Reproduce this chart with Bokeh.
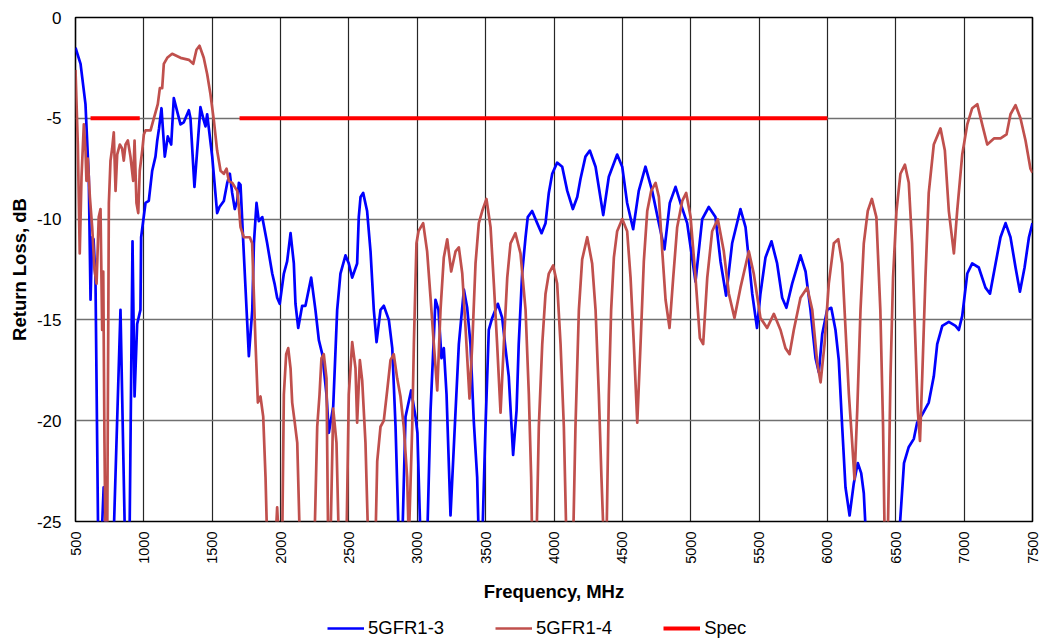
import math
from bokeh.plotting import figure
from bokeh.layouts import column
from bokeh.models import Range1d, FixedTicker, Legend, LegendItem
from bokeh.embed import file_html
from bokeh.resources import INLINE

# ---- data ----
x_ticks = [500, 1000, 1500, 2000, 2500, 3000, 3500, 4000, 4500, 5000, 5500, 6000, 6500, 7000, 7500]
y_ticks = [-25, -20, -15, -10, -5, 0]
y_tick_labels = ["-25", "-20", "-15", "-10", "-5", "0"]

freq_13 = [500, 537, 573, 597, 610, 622, 632, 646, 666, 690, 706, 716, 727, 738, 778, 829, 862, 895,
           917, 932, 951, 975, 980, 1012, 1036, 1061, 1085, 1098, 1111, 1129, 1153, 1175, 1200, 1219,
           1268, 1292, 1329, 1341, 1370, 1414, 1438, 1451, 1463, 1500, 1536, 1553, 1585, 1610, 1629,
           1646, 1665, 1683, 1695, 1707, 1731, 1768, 1793, 1805, 1824, 1841, 1866, 1902, 1939, 1956,
           1975, 1994, 2024, 2048, 2073, 2097, 2109, 2129, 2158, 2182, 2224, 2255, 2280, 2305, 2336,
           2353, 2385, 2414, 2438, 2475, 2499, 2524, 2560, 2572, 2585, 2604, 2633, 2658, 2682, 2702,
           2731, 2755, 2792, 2817, 2841, 2865, 2890, 2914, 2955, 2987, 3001, 3024, 3072, 3097, 3133,
           3155, 3177, 3194, 3214, 3243, 3280, 3304, 3341, 3365, 3389, 3413, 3438, 3450, 3475, 3499,
           3523, 3548, 3589, 3621, 3645, 3669, 3701, 3726, 3742, 3767, 3792, 3808, 3840, 3877, 3909,
           3938, 3962, 3987, 4023, 4060, 4097, 4138, 4170, 4194, 4230, 4262, 4304, 4360, 4401, 4462,
           4499, 4535, 4579, 4620, 4669, 4718, 4767, 4808, 4847, 4889, 4925, 4974, 5035, 5084, 5132,
           5181, 5218, 5259, 5303, 5364, 5401, 5450, 5485, 5510, 5547, 5591, 5632, 5669, 5700, 5742,
           5803, 5840, 5876, 5913, 5937, 5962, 5998, 6028, 6059, 6083, 6108, 6132, 6162, 6193, 6222,
           6247, 6266, 6284, 6522, 6560, 6595, 6632, 6656, 6693, 6741, 6778, 6803, 6840, 6888, 6937,
           6961, 6986, 7023, 7059, 7107, 7156, 7189, 7230, 7266, 7303, 7339, 7376, 7408, 7442, 7474,
           7500]
rl_13 = [-1.5, -2.3, -4.3, -7.9, -14.0, -10.9, -11.0, -12.9, -26, -26, -23.3, -23.3, -26, -26, -26, -14.5,
         -26, -26, -11.1, -18.8, -15.2, -14.5, -10.9, -9.2, -9.1, -7.6, -6.9, -6.1, -5.5, -4.5, -6.9,
         -5.9, -6.3, -4.0, -5.3, -5.2, -4.6, -5.0, -8.4, -4.45, -5.1, -5.4, -4.8, -6.9, -9.7, -9.4,
         -9.1, -8.2, -7.75, -8.7, -9.5, -9.1, -8.2, -8.3, -11.7, -16.8, -14.5, -11.2, -9.2, -10.1,
         -9.9, -11.2, -12.7, -13.2, -13.9, -14.2, -12.7, -12.1, -10.7, -12.2, -14.2, -15.4, -14.3,
         -14.3, -12.9, -14.5, -16.0, -16.7, -18.7, -20.6, -19.3, -14.5, -12.7, -11.8, -12.2, -12.9,
         -12.2, -9.9, -8.9, -8.7, -9.6, -11.6, -14.5, -16.1, -14.5, -14.3, -15.0, -16.4, -20.3, -26,
         -26, -19.8, -18.5, -19.8, -20.6, -26, -26, -19.5, -14.0, -14.5, -16.9, -16.4, -18.7, -24.7,
         -19.5, -16.2, -13.5, -14.4, -16.2, -20.0, -22.8, -26, -26, -20.3, -15.5, -14.9, -14.2,
         -14.9, -16.4, -17.8, -21.7, -19.5, -16.2, -12.7, -10.9, -9.9, -9.6, -10.2, -10.7, -10.2,
         -8.7, -7.75, -7.2, -7.4, -8.6, -9.5, -8.9, -8.0, -6.9, -6.6, -7.4, -9.8, -7.9, -6.8, -7.4,
         -9.2, -10.5, -8.6, -7.4, -8.6, -10.2, -11.5, -9.2, -8.4, -9.2, -10.2, -13.1, -10.0, -9.4,
         -9.9, -12.1, -13.8, -11.2, -9.5, -10.4, -13.7, -15.4, -13.7, -11.9, -11.1, -12.2, -13.9,
         -14.4, -13.2, -11.8, -12.6, -14.5, -16.9, -17.6, -15.7, -14.5, -14.4, -15.5, -17.0, -20.3,
         -23.3, -24.7, -23.1, -22.1, -22.6, -23.6, -26, -26, -22.1, -21.3, -20.9, -20.1, -19.7,
         -19.1, -17.8, -16.2, -15.3, -15.1, -15.3, -15.5, -14.8, -12.7, -12.2, -12.4, -13.4, -13.7,
         -12.2, -10.9, -10.2, -10.9, -12.4, -13.6, -12.4, -10.9, -10.2]

freq_14 = [500, 517, 531, 544, 561, 573, 580, 590, 605, 622, 639, 654, 670, 683, 695, 703, 712, 719, 732,
           744, 756, 768, 780, 793, 805, 824, 841, 853, 866, 883, 902, 922, 932, 946, 959, 970, 988,
           1000, 1012, 1049, 1073, 1102, 1117, 1134, 1146, 1171, 1207, 1268, 1329, 1361, 1385, 1407,
           1438, 1463, 1487, 1512, 1536, 1561, 1585, 1605, 1621, 1646, 1683, 1695, 1707, 1731, 1775,
           1792, 1817, 1834, 1853, 1873, 1890, 1902, 1963, 1975, 1988, 2012, 2024, 2041, 2056, 2073,
           2085, 2102, 2122, 2141, 2248, 2268, 2285, 2299, 2316, 2336, 2348, 2365, 2385, 2409, 2426,
           2482, 2499, 2524, 2548, 2560, 2580, 2597, 2621, 2641, 2694, 2707, 2731, 2755, 2780, 2804,
           2828, 2853, 2877, 2901, 2926, 2938, 2963, 2975, 2994, 3009, 3043, 3072, 3097, 3121, 3146,
           3170, 3194, 3219, 3248, 3280, 3304, 3329, 3353, 3382, 3402, 3426, 3450, 3475, 3506, 3536,
           3560, 3584, 3609, 3633, 3658, 3682, 3718, 3755, 3792, 3816, 3833, 3840, 3872, 3889, 3914,
           3938, 3962, 3994, 4023, 4048, 4072, 4091, 4140, 4157, 4182, 4206, 4243, 4279, 4304, 4328,
           4347, 4364, 4384, 4401, 4418, 4438, 4462, 4499, 4535, 4560, 4584, 4609, 4633, 4657, 4682,
           4711, 4743, 4767, 4792, 4816, 4845, 4872, 4901, 4938, 4967, 4999, 5035, 5067, 5091, 5121,
           5157, 5198, 5242, 5279, 5320, 5364, 5425, 5461, 5510, 5559, 5608, 5657, 5693, 5723, 5754,
           5803, 5852, 5889, 5925, 5950, 5979, 6010, 6047, 6079, 6108, 6132, 6157, 6181, 6198, 6218,
           6242, 6266, 6295, 6325, 6358, 6387, 6407, 6419, 6441, 6461, 6480, 6505, 6534, 6567, 6595,
           6619, 6644, 6661, 6677, 6693, 6717, 6741, 6778, 6827, 6859, 6888, 6925, 6949, 6986, 7023,
           7059, 7096, 7132, 7169, 7218, 7266, 7310, 7339, 7376, 7412, 7449, 7485, 7500]
rl_14 = [-2.6, -6.3, -11.7, -7.9, -5.3, -6.6, -8.1, -7.0, -8.9, -10.4, -12.5, -13.2, -9.9, -9.5, -15.5,
         -12.6, -21.1, -26, -26, -9.2, -7.1, -6.5, -5.7, -8.6, -6.8, -6.3, -6.5, -7.1, -6.3, -6.1,
         -6.9, -8.1, -6.1, -9.2, -9.7, -7.6, -6.6, -5.8, -5.6, -5.6, -5.0, -4.3, -3.5, -3.5, -2.3,
         -2.0, -1.8, -2.0, -2.1, -2.3, -1.6, -1.4, -2.0, -2.8, -3.8, -5.1, -6.6, -7.6, -7.75, -7.5,
         -8.1, -8.2, -8.6, -9.4, -10.4, -10.9, -10.9, -11.2, -16.2, -19.1, -18.8, -19.8, -22.8, -26,
         -26, -24.3, -26, -26, -18.7, -16.7, -16.4, -17.4, -19.1, -20.0, -21.1, -26, -26, -20.3,
         -18.7, -16.9, -16.7, -17.9, -26, -26, -19.4, -21.1, -26, -26, -18.7, -16.1, -17.4, -20.1,
         -17.0, -18.0, -21.1, -26, -26, -22.0, -20.3, -20.0, -18.5, -17.0, -16.7, -17.9, -18.8,
         -20.3, -22.8, -26, -20.3, -16.2, -11.2, -10.6, -10.2, -11.6, -13.9, -16.2, -18.5, -14.5,
         -11.9, -11.0, -12.6, -11.6, -11.4, -12.7, -15.4, -18.9, -16.2, -12.2, -10.2, -9.6, -9.0,
         -10.4, -13.2, -16.2, -19.6, -16.2, -12.9, -11.2, -10.7, -11.7, -14.5, -18.7, -22.8, -26,
         -26, -20.3, -16.2, -13.7, -12.7, -12.3, -13.2, -16.2, -20.3, -26, -26, -20.3, -14.5, -12.0,
         -10.9, -12.2, -14.5, -18.7, -22.8, -26, -26, -18.7, -14.5, -11.9, -10.6, -10.0, -10.6,
         -12.9, -16.2, -20.1, -16.2, -12.1, -9.6, -8.6, -8.2, -8.9, -11.6, -14.0, -15.4, -12.9,
         -10.4, -9.1, -8.7, -9.9, -12.9, -15.9, -16.2, -12.9, -10.6, -10.0, -11.6, -13.7, -14.9,
         -13.4, -11.6, -12.7, -14.9, -15.4, -14.7, -15.5, -16.4, -16.7, -15.5, -13.9, -13.4, -14.5,
         -17.1, -18.1, -16.2, -13.2, -11.2, -11.0, -12.2, -15.4, -18.7, -21.1, -22.9, -19.5, -14.5,
         -11.2, -9.6, -9.0, -9.9, -14.5, -20.3, -26, -26, -17.9, -12.9, -9.6, -7.75, -7.3, -8.2,
         -11.2, -16.2, -19.5, -21.0, -17.9, -12.9, -8.7, -6.3, -5.5, -6.6, -9.6, -11.7, -9.6, -6.8,
         -5.3, -4.5, -4.3, -5.3, -6.3, -6.0, -6.0, -5.8, -4.8, -4.35, -5.0, -6.1, -7.5, -7.7]

spec_freq = [610, 970, float("nan"), 1700, 6000]
spec_rl = [-5, -5, float("nan"), -5, -5]

series_names = ["5GFR1-3", "5GFR1-4", "Spec"]
series_colors = ["#0000FF", "#C0504D", "#FF0000"]
series_widths = [2.7, 2.7, 4]

FONT = "Liberation Sans"

# ---------------- main chart ----------------
p = figure(frame_width=957, frame_height=504, output_backend="svg", toolbar_location=None,
           x_range=Range1d(500, 7500), y_range=Range1d(-25, 0),
           min_border_left=75, min_border_right=8, min_border_top=17, min_border_bottom=85)

p.background_fill_color = "white"
p.border_fill_color = "white"
p.outline_line_color = "black"
p.outline_line_width = 1.6

p.line(freq_13, rl_13, line_color=series_colors[0], line_width=series_widths[0], line_join="round")
p.line(freq_14, rl_14, line_color=series_colors[1], line_width=series_widths[1], line_join="round")
p.line(spec_freq, spec_rl, line_color=series_colors[2], line_width=series_widths[2])

p.xaxis.ticker = FixedTicker(ticks=x_ticks)
p.yaxis.ticker = FixedTicker(ticks=y_ticks)
p.yaxis.major_label_overrides = {t: s for t, s in zip(y_ticks, y_tick_labels)}
p.xaxis.major_label_orientation = math.pi / 2
for ax in (p.xaxis, p.yaxis):
    ax.axis_line_color = None
    ax.major_tick_line_color = None
    ax.minor_tick_line_color = None
    ax.major_tick_out = 0
    ax.major_tick_in = 0
    ax.minor_tick_out = 0
    ax.minor_tick_in = 0
    ax.major_label_text_font = FONT
    ax.major_label_text_color = "black"
    ax.axis_label_text_font = FONT
    ax.axis_label_text_font_style = "bold"
    ax.axis_label_text_color = "black"
    ax.axis_label_text_font_size = "18.5px"

p.xaxis.major_label_text_font_size = "14.5px"
p.yaxis.major_label_text_font_size = "17px"
p.xaxis.major_label_standoff = 10
p.yaxis.major_label_standoff = 14
p.xaxis.axis_label = "Frequency, MHz"
p.yaxis.axis_label = "Return Loss, dB"
p.xaxis.axis_label_standoff = 14
p.yaxis.axis_label_standoff = 4

p.xgrid.grid_line_color = "black"
p.xgrid.grid_line_width = 1.2
p.xgrid.grid_line_alpha = 0.85
p.ygrid.grid_line_color = "#707070"
p.ygrid.grid_line_width = 1.5

# ---------------- legend strip below ----------------
leg = figure(width=75 + 957 + 8, height=34, output_backend="svg", toolbar_location=None,
             x_range=Range1d(0, 1), y_range=Range1d(0, 1),
             min_border_left=0, min_border_right=0, min_border_top=0, min_border_bottom=0)
leg.axis.visible = False
leg.grid.visible = False
leg.outline_line_color = None
leg.background_fill_color = "white"
leg.border_fill_color = "white"
items = []
for name, col, w in zip(series_names, series_colors, series_widths):
    # placeholder renderer, kept outside the strip's visible range; only its legend swatch shows
    r = leg.line([-10, -9], [-10, -9], line_color=col, line_width=w)
    items.append(LegendItem(label=name, renderers=[r]))

legend = Legend(items=items, orientation="horizontal", location=(252, 1))
legend.label_text_font = FONT
legend.label_text_font_size = "18.5px"
legend.label_text_color = "black"
legend.glyph_width = 37
legend.glyph_height = 18
legend.label_standoff = 4
legend.spacing = 51
legend.padding = 0
legend.margin = 0
legend.border_line_alpha = 0
legend.background_fill_alpha = 0
leg.add_layout(legend, "center")

layout = column(p, leg, spacing=0)

open("out.html", "w").write(file_html(layout, INLINE))
